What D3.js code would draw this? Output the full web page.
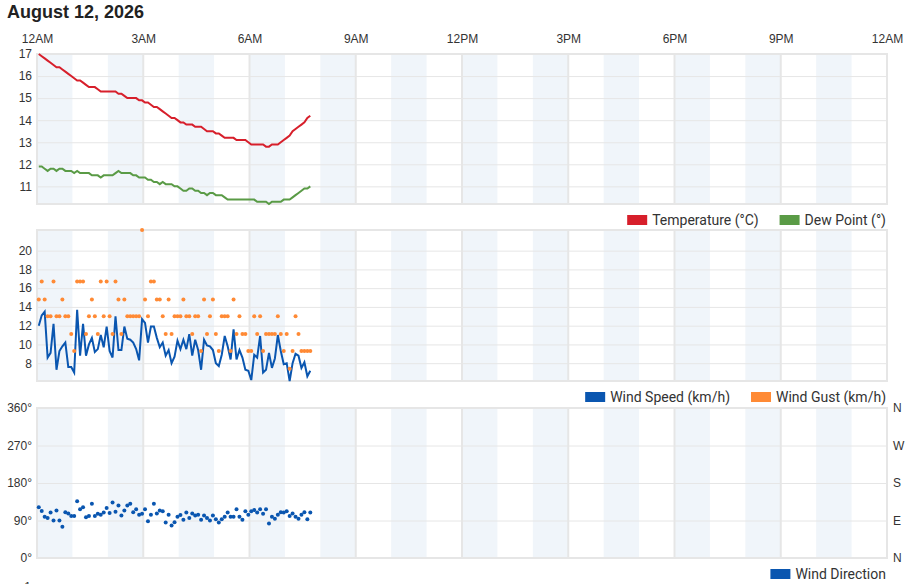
<!DOCTYPE html>
<html>
<head>
<meta charset="utf-8">
<script src="https://cdn.jsdelivr.net/npm/d3@7"></script>
<style>
  body { margin: 0; background: #fff; }
  svg { display: block; font-family: "Liberation Sans", Arial, sans-serif; }
  .legend text { font-family: Roboto, "Liberation Sans", sans-serif; }
</style>
</head>
<body>
<svg id="chart" width="906" height="584"></svg>
<script>
// ---------------------------------------------------------------------------
// Data

const chartTitle = 'August 12, 2026';

// x axis: minutes after midnight and their labels
const hourTicks = [0, 180, 360, 540, 720, 900, 1080, 1260, 1440];
const hourLabels = ['12AM', '3AM', '6AM', '9AM', '12PM', '3PM', '6PM', '9PM', '12AM'];

// sample times, minutes after midnight
const sampleMinutes = [
  3, 8, 13, 18, 23, 28, 33, 38, 43, 48,
  53, 58, 63, 68, 73, 78, 83, 88, 93, 98,
  103, 108, 113, 118, 123, 128, 133, 138, 143, 148,
  153, 158, 163, 168, 173, 178, 183, 188, 193, 198,
  203, 208, 213, 218, 223, 228, 233, 238, 243, 248,
  253, 258, 263, 268, 273, 278, 283, 288, 293, 298,
  303, 308, 313, 318, 323, 328, 333, 338, 343, 348,
  353, 358, 363, 368, 373, 378, 383, 388, 393, 398,
  403, 408, 413, 418, 423, 428, 433, 438, 443, 448,
  453, 458, 463
];

const temperature = [
  17.0, 16.9, 16.8, 16.7, 16.6, 16.5, 16.4, 16.4, 16.3, 16.2,
  16.1, 16.0, 15.9, 15.8, 15.8, 15.7, 15.6, 15.5, 15.5, 15.5,
  15.4, 15.3, 15.3, 15.3, 15.3, 15.3, 15.3, 15.2, 15.2, 15.1,
  15.0, 15.0, 15.0, 15.0, 14.9, 14.9, 14.8, 14.8, 14.7, 14.6,
  14.6, 14.5, 14.4, 14.3, 14.2, 14.1, 14.1, 14.0, 13.9, 13.9,
  13.8, 13.8, 13.8, 13.7, 13.7, 13.7, 13.6, 13.5, 13.5, 13.5,
  13.4, 13.4, 13.3, 13.2, 13.2, 13.2, 13.2, 13.1, 13.1, 13.1,
  13.1, 13.0, 12.9, 12.9, 12.9, 12.9, 12.9, 12.8, 12.8, 12.9,
  12.9, 12.9, 13.0, 13.1, 13.2, 13.3, 13.5, 13.6, 13.7, 13.8,
  13.9, 14.1, 14.2
];

const dewPoint = [
  11.9, 11.9, 11.8, 11.7, 11.8, 11.8, 11.7, 11.8, 11.8, 11.7,
  11.7, 11.7, 11.6, 11.7, 11.6, 11.6, 11.6, 11.6, 11.5, 11.5,
  11.5, 11.4, 11.5, 11.5, 11.5, 11.5, 11.6, 11.7, 11.6, 11.6,
  11.6, 11.6, 11.5, 11.5, 11.4, 11.4, 11.4, 11.3, 11.3, 11.2,
  11.2, 11.1, 11.2, 11.1, 11.1, 11.1, 11.0, 11.0, 10.9, 10.8,
  10.8, 10.9, 10.9, 10.8, 10.8, 10.7, 10.7, 10.6, 10.7, 10.7,
  10.6, 10.6, 10.6, 10.5, 10.4, 10.4, 10.4, 10.4, 10.4, 10.4,
  10.4, 10.4, 10.4, 10.4, 10.3, 10.3, 10.3, 10.3, 10.2, 10.3,
  10.3, 10.3, 10.3, 10.4, 10.4, 10.4, 10.5, 10.6, 10.7, 10.8,
  10.9, 10.9, 11.0
];

const windSpeed = [
  12.0, 13.1, 13.5, 8.6, 9.1, 12.2, 7.3, 9.3, 9.8, 10.2,
  7.6, 7.6, 7.0, 13.7, 8.8, 12.2, 8.8, 10.0, 10.7, 9.2,
  9.5, 11.0, 9.7, 11.9, 9.3, 8.6, 13.0, 9.4, 9.4, 11.9,
  10.6, 10.5, 10.2, 9.5, 8.3, 12.7, 12.3, 10.2, 11.9, 11.9,
  10.7, 9.7, 10.2, 8.8, 9.4, 8.0, 8.7, 10.4, 9.5, 10.5,
  9.5, 11.1, 8.8, 10.5, 9.4, 7.3, 10.5, 9.9, 9.8, 9.4,
  8.0, 7.7, 8.9, 10.9, 9.8, 8.4, 11.6, 8.4, 9.4, 8.6,
  7.3, 7.2, 6.2, 8.9, 8.6, 10.9, 7.0, 7.3, 9.1, 7.5,
  8.5, 11.0, 9.3, 7.9, 8.0, 6.1, 8.0, 9.0, 8.8, 7.5,
  8.1, 6.6, 7.2
];

const windGust = [
  14.8, 16.7, 14.8, 13.0, 13.0, 16.7, 13.0, 13.0, 14.8, 13.0,
  13.0, 11.1, 9.3, 16.7, 16.7, 16.7, 11.1, 13.0, 14.8, 13.0,
  11.1, 16.7, 13.0, 16.7, 13.0, 11.1, 16.7, 14.8, 11.1, 14.8,
  13.0, 13.0, 13.0, 13.0, 13.0, 22.2, 14.8, 13.0, 16.7, 16.7,
  14.8, 14.8, 13.0, 11.1, 14.8, 11.1, 13.0, 13.0, 13.0, 14.8,
  13.0, 13.0, 11.1, 13.0, 13.0, 9.3, 14.8, 11.1, 13.0, 14.8,
  11.1, 9.3, 13.0, 13.0, 13.0, 9.3, 14.8, 11.1, 13.0, 11.1,
  11.1, 9.3, 9.3, 13.0, 11.1, 13.0, 9.3, 11.1, 11.1, 11.1,
  11.1, 13.0, 11.1, 9.3, 11.1, 7.4, 9.3, 13.0, 11.1, 9.3,
  9.3, 9.3, 9.3
];

const windDirection = [
  122, 113, 99, 96, 109, 90, 114, 90, 75, 110,
  107, 101, 101, 136, 117, 122, 98, 101, 130, 101,
  106, 104, 109, 120, 108, 133, 111, 126, 102, 114,
  126, 130, 110, 117, 104, 106, 117, 88, 104, 130,
  107, 114, 112, 85, 104, 78, 86, 99, 103, 92,
  109, 96, 107, 102, 104, 92, 102, 96, 90, 102,
  93, 85, 93, 99, 109, 99, 99, 117, 99, 92,
  112, 104, 112, 115, 109, 117, 106, 117, 83, 99,
  94, 104, 110, 109, 112, 101, 107, 99, 94, 104,
  110, 93, 109
];

const tempTicks = [11, 12, 13, 14, 15, 16, 17];
const windTicks = [8, 10, 12, 14, 16, 18, 20];
const dirTicks = [0, 90, 180, 270, 360];
const compassLabels = ['N', 'E', 'S', 'W', 'N'];

const legendTemp = ['Temperature (°C)', 'Dew Point (°)'];
const legendWind = ['Wind Speed (km/h)', 'Wind Gust (km/h)'];
const legendDir = ['Wind Direction'];

// ---------------------------------------------------------------------------
// Styles

const colors = {
  temp: '#d71f2b',
  dew: '#5a9b46',
  speed: '#0a56b0',
  gust: '#ff8a35',
  band: '#f0f5fa',
  grid: '#e6e6e6',
  text: '#333'
};

const left = 37;
const right = 887;

const svg = d3.select('#chart');

const x = d3.scaleLinear().domain([0, 1440]).range([left, right]);

// title
svg.append('text')
  .attr('x', 7)
  .attr('y', 18)
  .style('font-size', '18px')
  .style('font-weight', 'bold')
  .style('fill', '#222')
  .text(chartTitle);

// hour labels on top
const xAxis = svg.append('g')
  .attr('transform', 'translate(0,46)')
  .call(d3.axisTop(x).tickValues(hourTicks).tickSize(0).tickPadding(3)
    .tickFormat((d, i) => hourLabels[i]));
xAxis.select('.domain').remove();
xAxis.selectAll('text').style('font-size', '12px').style('fill', colors.text);

// ---------------------------------------------------------------------------
// Panels

function drawPanel(top, bottom, y, ticks, fmt) {
  const g = svg.append('g');

  // shaded hour bands
  const evenHours = d3.range(0, 24, 2);
  g.selectAll('.band')
    .data(evenHours)
    .enter().append('rect')
    .attr('class', 'band')
    .attr('x', (h) => x(h * 60))
    .attr('y', top)
    .attr('width', (h) => x((h + 1) * 60) - x(h * 60))
    .attr('height', bottom - top)
    .style('fill', colors.band);

  // horizontal grid
  const grid = g.append('g')
    .attr('transform', 'translate(' + left + ',0)')
    .call(d3.axisLeft(y).tickValues(ticks).tickSize(-(right - left)).tickFormat(''));
  grid.select('.domain').remove();
  grid.selectAll('line').style('stroke', colors.grid);

  // 3 hour vertical lines
  g.selectAll('.vline')
    .data(hourTicks)
    .enter().append('line')
    .attr('x1', (d) => x(d))
    .attr('x2', (d) => x(d))
    .attr('y1', top)
    .attr('y2', bottom)
    .style('stroke', colors.grid)
    .style('stroke-width', 2);

  g.append('rect')
    .attr('x', left)
    .attr('y', top)
    .attr('width', right - left)
    .attr('height', bottom - top)
    .style('fill', 'none')
    .style('stroke', colors.grid)
    .style('stroke-width', 2);

  const yAxis = svg.append('g')
    .attr('transform', 'translate(' + left + ',0)')
    .call(d3.axisLeft(y).tickValues(ticks).tickSize(0).tickPadding(5).tickFormat(fmt));
  yAxis.select('.domain').remove();
  yAxis.selectAll('text').style('font-size', '12px').style('fill', colors.text);

  return g;
}

function drawLegend(items, swatchColors, cy) {
  const lg = svg.append('g').attr('class', 'legend');
  let cursor = 886;
  for (let i = items.length - 1; i >= 0; i--) {
    const t = lg.append('text')
      .attr('y', cy + 5)
      .style('font-size', '14px')
      .style('fill', colors.text)
      .text(items[i]);
    const w = t.node().getComputedTextLength();
    t.attr('x', cursor - w);
    lg.append('rect')
      .attr('x', cursor - w - 25)
      .attr('y', cy - 5)
      .attr('width', 20)
      .attr('height', 10)
      .style('fill', swatchColors[i]);
    cursor = cursor - w - 25 - 21;
  }
}

function line(y, values) {
  return d3.line()
    .x((d, i) => x(sampleMinutes[i]))
    .y((d) => y(d))(values);
}

// temperature / dew point
const yTemp = d3.scaleLinear()
  .domain(d3.extent(temperature.concat(dewPoint)))
  .range([204, 54]);
const p1 = drawPanel(54, 204, yTemp, tempTicks, (d) => d);
p1.append('path')
  .attr('d', line(yTemp, dewPoint))
  .style('fill', 'none')
  .style('stroke', colors.dew)
  .style('stroke-width', 2);
p1.append('path')
  .attr('d', line(yTemp, temperature))
  .style('fill', 'none')
  .style('stroke', colors.temp)
  .style('stroke-width', 2);
drawLegend(legendTemp, [colors.temp, colors.dew], 220);

// wind speed / gust
const yWind = d3.scaleLinear()
  .domain(d3.extent(windSpeed.concat(windGust)))
  .range([381, 230]);
const p2 = drawPanel(230, 381, yWind, windTicks, (d) => d);
p2.append('path')
  .attr('d', line(yWind, windSpeed))
  .style('fill', 'none')
  .style('stroke', colors.speed)
  .style('stroke-width', 2);
p2.selectAll('.gust')
  .data(windGust)
  .enter().append('circle')
  .attr('class', 'gust')
  .attr('cx', (d, i) => x(sampleMinutes[i]))
  .attr('cy', (d) => yWind(d))
  .attr('r', 2)
  .style('fill', colors.gust);
drawLegend(legendWind, [colors.speed, colors.gust], 397);

// wind direction
const yDir = d3.scaleLinear().domain([0, 360]).range([558, 408]);
const p3 = drawPanel(408, 558, yDir, dirTicks, (d) => d + '°');
p3.selectAll('.dir')
  .data(windDirection)
  .enter().append('circle')
  .attr('class', 'dir')
  .attr('cx', (d, i) => x(sampleMinutes[i]))
  .attr('cy', (d) => yDir(d))
  .attr('r', 2)
  .style('fill', colors.speed);
const compass = svg.append('g')
  .attr('transform', 'translate(' + right + ',0)')
  .call(d3.axisRight(yDir).tickValues(dirTicks).tickSize(0).tickPadding(6)
    .tickFormat((d, i) => compassLabels[i]));
compass.select('.domain').remove();
compass.selectAll('text').style('font-size', '12px').style('fill', colors.text);
drawLegend(legendDir, [colors.speed], 574);

// top of the next chart's first label, cut by the window
svg.append('text')
  .attr('x', 31)
  .attr('y', 591)
  .attr('text-anchor', 'end')
  .style('font-size', '12px')
  .style('fill', colors.text)
  .text('1');
</script>
</body>
</html>
